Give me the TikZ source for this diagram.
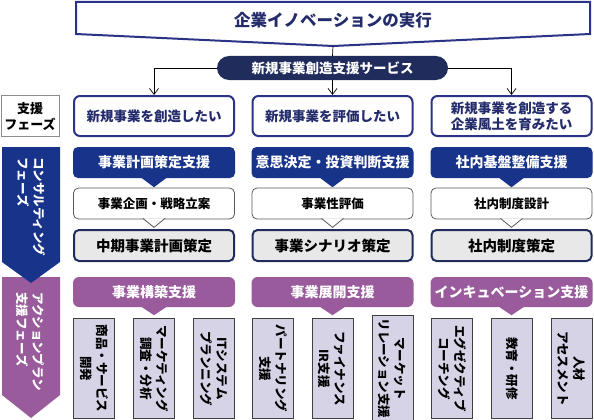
\documentclass[tikz,border=0pt]{standalone}
\usepackage{fontspec}
\setmainfont{Noto Sans CJK JP}
\usetikzlibrary{arrows.meta}
\definecolor{navyline}{HTML}{2B3386}
\definecolor{navytext}{HTML}{232B6B}
\definecolor{navyfill}{HTML}{17338A}
\definecolor{pilldark}{HTML}{1F2C5C}
\definecolor{plum}{HTML}{9A5B9D}
\definecolor{lavender}{HTML}{D7D3E7}
\definecolor{boxgray}{HTML}{E8E8E8}
\begin{document}
\begin{tikzpicture}[x=1pt, y=-1pt,
    link/.style={-{Straight Barb[length=6pt,width=9pt]}, line width=0.7pt},
    pill/.style={fill=pilldark, rounded corners=12pt, minimum width=231pt, minimum height=24pt, text=white, font=\bfseries\fontsize{13.5}{16}\selectfont},
    phase/.style={draw=navyline, line width=2pt, fill=white, rounded corners=6pt, minimum width=160pt, minimum height=40pt, align=center, text=navytext, font=\bfseries\fontsize{13.5}{16}\selectfont},
    conshead/.style={fill=navyfill, rounded corners=5pt, minimum width=162pt, minimum height=31pt, text=white, font=\bfseries\fontsize{14}{16}\selectfont},
    planbox/.style={draw=black!65, line width=0.8pt, fill=white, rounded corners=5pt, minimum width=161pt, minimum height=31pt, font=\bfseries\fontsize{12.5}{14}\selectfont},
    goalbox/.style={draw=pilldark, line width=2pt, fill=boxgray, rounded corners=5pt, minimum width=160pt, minimum height=31pt, font=\bfseries\fontsize{14.5}{16}\selectfont},
    acthead/.style={fill=plum, rounded corners=6pt, minimum width=162pt, minimum height=30pt, text=white, font=\bfseries\fontsize{14}{16}\selectfont},
    actbox/.style={rotate=-90, draw=black!75, line width=0.8pt, fill=lavender, minimum width=100pt, minimum height=41pt, align=center, font=\bfseries\fontsize{12.5}{16}\selectfont},
    sidetext/.style={rotate=-90, align=left, text=white, inner sep=0pt, font=\bfseries\fontsize{12.5}{16}\selectfont}]
  \useasboundingbox (0,0) rectangle (594,420);

  % Titel
  \draw[navyline, line width=2pt] (76,2) -- (590,2) -- (590,34) -- (333,46) -- (76,34) -- cycle;
  \coordinate (titletip) at (333,46);
  \node[text=navytext, font=\bfseries\fontsize{16.5}{18}\selectfont] (title) at (333,20) {企業イノベーションの実行};
  \node[pill] (svc) at (332.5,68) {新規事業創造支援サービス};

  % Seitenleisten
  \node[draw=black!45, line width=0.8pt, minimum width=55pt, minimum height=41pt, align=center, font=\bfseries\fontsize{13}{16}\selectfont] (phaselbl) at (30,116) {支援\\フェーズ};
  \fill[plum] (2,277) -- (60,277) -- (60,395) -- (31,418) -- (2,395) -- cycle;
  \fill[navyfill] (2,147) -- (60,147) -- (60,262) -- (31,283) -- (2,262) -- cycle;
  \node[sidetext, anchor=west] (conslbl) at (31,157) {コンサルティング\\フェーズ};
  \node[sidetext, anchor=west] (actlbl) at (30,292) {アクションプラン\\支援フェーズ};

  % Phasen
  \node[phase] (want1) at (154,116) {新規事業を創造したい};
  \node[phase] (want2) at (332.5,116) {新規事業を評価したい};
  \node[phase] (want3) at (511.5,116) {新規事業を創造する\\企業風土を育みたい};

  % Pfeile
  \draw[line width=0.7pt] (titletip) -- (svc.north);
  \draw[link] (svc.south) -- (want2.north);
  \draw[link] (svc.west) -| (want1.north);
  \draw[link] (svc.east) -| (want3.north);

  % Beratung
  \node[conshead] (cons1) at (154,162.5) {事業計画策定支援};
  \node[conshead] (cons2) at (332.5,162.5) {意思決定・投資判断支援};
  \node[conshead] (cons3) at (511.5,162.5) {社内基盤整備支援};
  \fill[navyfill] ([xshift=-12pt]cons1.south) -- ([yshift=-9pt]cons1.south) -- ([xshift=12pt]cons1.south) -- cycle;
  \fill[navyfill] ([xshift=-12pt]cons2.south) -- ([yshift=-9pt]cons2.south) -- ([xshift=12pt]cons2.south) -- cycle;
  \fill[navyfill] ([xshift=-12pt]cons3.south) -- ([yshift=-9pt]cons3.south) -- ([xshift=12pt]cons3.south) -- cycle;

  \node[planbox] (plan1) at (154,203.5) {事業企画・戦略立案};
  \node[planbox] (plan2) at (332.5,203.5) {事業性評価};
  \node[planbox] (plan3) at (511.5,203.5) {社内制度設計};
  \draw[fill=white, draw=black!65, line width=0.8pt] ([xshift=-11pt,yshift=1pt]plan1.south) -- ([yshift=-8pt]plan1.south) -- ([xshift=11pt,yshift=1pt]plan1.south);
  \draw[fill=white, draw=black!65, line width=0.8pt] ([xshift=-11pt,yshift=1pt]plan2.south) -- ([yshift=-8pt]plan2.south) -- ([xshift=11pt,yshift=1pt]plan2.south);
  \draw[fill=white, draw=black!65, line width=0.8pt] ([xshift=-11pt,yshift=1pt]plan3.south) -- ([yshift=-8pt]plan3.south) -- ([xshift=11pt,yshift=1pt]plan3.south);

  \node[goalbox] (goal1) at (154,245.5) {中期事業計画策定};
  \node[goalbox] (goal2) at (332.5,245.5) {事業シナリオ策定};
  \node[goalbox] (goal3) at (511.5,245.5) {社内制度策定};

  % Aktionsplan
  \node[acthead] (act1) at (154,292) {事業構築支援};
  \node[acthead] (act2) at (332.5,292) {事業展開支援};
  \node[acthead] (act3) at (511.5,292) {インキュベーション支援};
  \fill[plum] ([xshift=-12pt]act1.south) -- ([yshift=-8pt]act1.south) -- ([xshift=12pt]act1.south) -- cycle;
  \fill[plum] ([xshift=-12pt]act2.south) -- ([yshift=-8pt]act2.south) -- ([xshift=12pt]act2.south) -- cycle;
  \fill[plum] ([xshift=-12pt]act3.south) -- ([yshift=-8pt]act3.south) -- ([xshift=12pt]act3.south) -- cycle;

  \node[actbox] (a11) at (94,368.5) {商品・サービス\\開発};
  \node[actbox] (a12) at (154,368.5) {マーケティング\\調査・分析};
  \node[actbox] (a13) at (214,368.5) {ITシステム\\プランニング};
  \node[actbox] (a21) at (273,368.5) {パートナリング\\支援};
  \node[actbox] (a22) at (332.5,368.5) {ファイナンス\\IR支援};
  \node[actbox] (a23) at (392.5,368.5) {マーケット\\リレーション支援};
  \node[actbox] (a31) at (452,368.5) {エグゼクティブ\\コーチング};
  \node[actbox] (a32) at (512,368.5) {教育・研修};
  \node[actbox] (a33) at (571.5,368.5) {人材\\アセスメント};
\end{tikzpicture}
\end{document}
